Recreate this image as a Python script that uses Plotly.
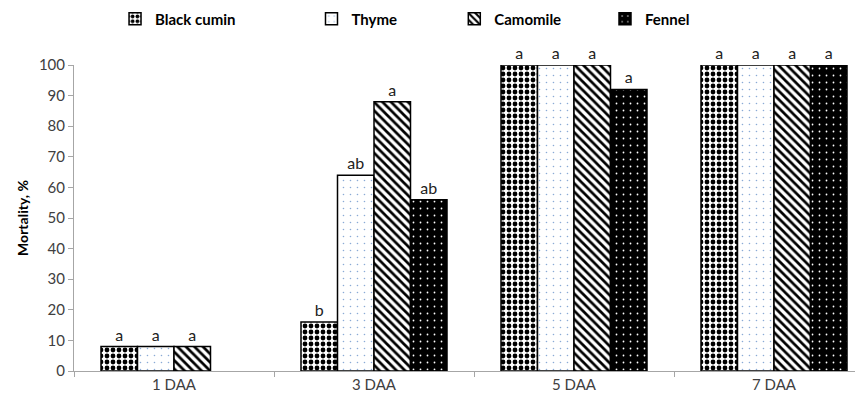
import plotly.graph_objects as go

categories = ["1 DAA", "3 DAA", "5 DAA", "7 DAA"]
series_names = ["Black cumin", "Thyme", "Camomile", "Fennel"]
black_cumin = [8, 16, 100, 100]
thyme = [8, 64, 100, 100]
camomile = [8, 88, 100, 100]
fennel = [None, 56, 92, 100]
labels_black_cumin = ["a", "b", "a", "a"]
labels_thyme = ["a", "ab", "a", "a"]
labels_camomile = ["a", "a", "a", "a"]
labels_fennel = ["", "ab", "a", "a"]
yticks = [0, 10, 20, 30, 40, 50, 60, 70, 80, 90, 100]

values = [black_cumin, thyme, camomile, fennel]
labels = [labels_black_cumin, labels_thyme, labels_camomile, labels_fennel]
patterns = [
    dict(shape=".", size=6, solidity=0.5, fgcolor="black", bgcolor="white", fillmode="replace"),
    dict(shape=".", size=7, solidity=0.04, fgcolor="#8aaad6", bgcolor="white", fillmode="replace"),
    dict(shape="\\", size=6, solidity=0.45, fgcolor="black", bgcolor="white", fillmode="replace"),
    dict(shape=".", size=7, solidity=0.05, fgcolor="white", bgcolor="black", fillmode="replace"),
]
bgcols = ["white", "white", "white", "black"]
legend_x = [0.052, 0.301, 0.482, 0.673]

FONT = "Lato, Liberation Sans, sans-serif"

fig = go.Figure()
for i, name in enumerate(series_names):
    lg = "legend" if i == 0 else f"legend{i+1}"
    fig.add_trace(go.Bar(
        x=categories, y=values[i], name=name,
        text=labels[i], textposition="outside",
        textfont=dict(size=16, color="#222222", family=FONT),
        marker=dict(color=bgcols[i], pattern=patterns[i], line=dict(color="black", width=1.5)),
        cliponaxis=False, legend=lg,
    ))

legend_common = dict(orientation="h", yanchor="middle", xanchor="left", y=1.15,
                     font=dict(family=FONT, size=15, color="black", weight="bold"),
                     bgcolor="rgba(0,0,0,0)", itemwidth=30)
layout_legends = {}
for i in range(4):
    key = "legend" if i == 0 else f"legend{i+1}"
    layout_legends[key] = dict(legend_common, x=legend_x[i])

fig.update_layout(
    width=855, height=398,
    margin=dict(l=66, r=0, t=57, b=35, autoexpand=False),
    paper_bgcolor="white", plot_bgcolor="white",
    barmode="group", bargap=0.27, bargroupgap=0,
    font=dict(family=FONT, size=15, color="#404040"),
    showlegend=True,
    xaxis=dict(range=[-0.5, 3.445], showline=True, linecolor="#a6a6a6", linewidth=1,
               ticks="outside", tickson="boundaries", ticklen=5, tickcolor="#a6a6a6",
               tickfont=dict(size=15, color="#404040"), showgrid=False),
    yaxis=dict(range=[0, 100], tickvals=yticks, showline=True, linecolor="#a6a6a6", linewidth=1,
               ticks="outside", ticklen=5, tickcolor="#a6a6a6", showgrid=False, zeroline=False,
               tickfont=dict(size=15, color="#404040"),
               title=dict(text="Mortality, %", font=dict(size=14, color="black", weight="bold"), standoff=6)),
    **layout_legends,
)

fig.write_html("out.html")
